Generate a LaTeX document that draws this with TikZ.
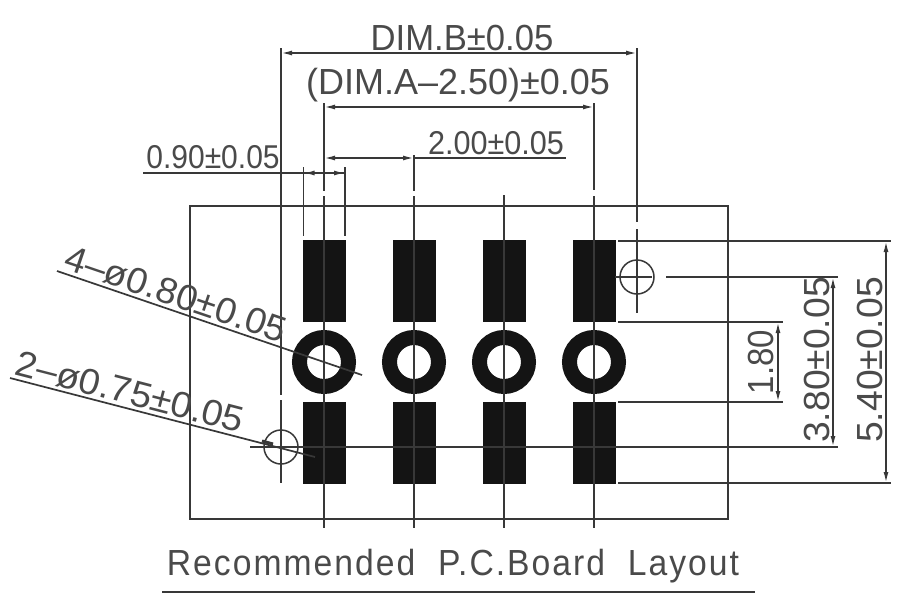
\documentclass[tikz,border=0pt]{standalone}
\usepackage{fontspec}
\usepackage{graphicx}
\setmainfont{Liberation Sans}
\newfontfamily\spaced[LetterSpace=6]{Liberation Sans}
\usetikzlibrary{arrows.meta,calc}
\definecolor{ink}{HTML}{383838}
\definecolor{txt}{HTML}{4A4A4A}
\definecolor{padfill}{HTML}{141414}
\tikzset{
  endtip/.style={-{Latex[length=11pt,width=5pt]}},
  dimline/.style={{Latex[length=11pt,width=5pt]}-{Latex[length=11pt,width=5pt]}},
  dimtext/.style={inner sep=0pt,text=txt,font=\fontsize{33}{33}\selectfont},
  padbox/.style={fill=padfill,draw=none,minimum width=43pt,minimum height=82pt,inner sep=0pt},
  ring/.style={circle,draw=padfill,line width=15pt,fill=white,minimum size=49pt,inner sep=0pt},
  hole/.style={circle,draw=ink,line width=1.5pt,minimum size=34pt,inner sep=0pt}
}
\begin{document}
\begin{tikzpicture}[x=1pt,y=-1pt,line width=1.7pt,color=ink]
\useasboundingbox (0,0) rectangle (900,595);
\fill[white] (0,0) rectangle (900,595);
\node[draw=ink,line width=1.9pt,minimum width=538pt,minimum height=313pt,inner sep=0pt] (board) at (459,362.5) {};
% pads and rings
\foreach \n/\x in {1/324,2/414,3/504,4/594}{
  \node[padbox] (top\n) at (\x,281) {};
  \node[padbox] (bot\n) at (\x,443) {};
  \node[ring] (ring\n) at (\x,362) {};
}
\node[hole] (holeA) at (637,277) {};
\node[hole] (holeB) at (281,447) {};
% named free ends
\coordinate (c1a) at (324,103);
\coordinate (c1b) at (324,191);
\coordinate (c1c) at (324,196);
\coordinate (c1d) at (324,528);
\coordinate (c2a) at (414,155);
\coordinate (c2b) at (414,191);
\coordinate (c2c) at (414,196);
\coordinate (c2d) at (414,528);
\coordinate (c3a) at (504,195);
\coordinate (c3d) at (504,528);
\coordinate (c4a) at (594,103);
\coordinate (c4b) at (594,190);
\coordinate (c4c) at (594,196);
\coordinate (c4d) at (594,528);
\draw (c1a)--(c1b) (c1c)--(c1d);
\draw (c2a)--(c2b) (c2c)--(c2d);
\draw (c3a)--(c3d);
\draw (c4a)--(c4b) (c4c)--(c4d);
% extension lines: left hole
\coordinate (lA) at (281,48);
\coordinate (lB) at (281,395);
\coordinate (lC) at (281,400);
\coordinate (lD) at (281,483);
\draw (lA)--(lB) (lC)--(lD);
% extension lines: right hole
\coordinate (rA) at (637,48);
\coordinate (rB) at (637,222);
\coordinate (rC) at (637,229);
\coordinate (rD) at (637,313);
\draw (rA)--(rB) (rC)--(rD);
% pad width ext
\coordinate (pL1) at (303.5,167);
\coordinate (pL2) at (303.5,236);
\coordinate (pR1) at (345,167);
\coordinate (pR2) at (345,236);
\draw (pL1)--(pL2) (pR1)--(pR2);
% horizontal centres
\coordinate (h1a) at (615,277);
\coordinate (h1b) at (652,277);
\coordinate (h1c) at (666,277);
\coordinate (h1d) at (838,277);
\draw (h1a)--(h1b) (h1c)--(h1d);
\coordinate (h2a) at (250,447);
\coordinate (h2d) at (838,447);
\draw (h2a)--(h2d);
% right extension lines
\coordinate (e1a) at (618,241);\coordinate (e1b) at (891,241);
\coordinate (e2a) at (618,483);\coordinate (e2b) at (891,483);
\coordinate (e3a) at (618,322);\coordinate (e3b) at (783,322);
\coordinate (e4a) at (618,402);\coordinate (e4b) at (783,402);
\draw (e1a)--(e1b) (e2a)--(e2b) (e3a)--(e3b) (e4a)--(e4b);
% dimensions
\coordinate (dB1) at (281,53);\coordinate (dB2) at (637,53);
\draw[dimline] (dB1)--(dB2);
\coordinate (dA1) at (324,107);\coordinate (dA2) at (594,107);
\draw[dimline] (dA1)--(dA2);
\coordinate (d21) at (324,158);\coordinate (d22) at (414,158);\coordinate (d23) at (566,158);
\draw[dimline] (d21)--(d22);
\draw (d22)--(d23);
\coordinate (w0) at (143,173);\coordinate (w1) at (303.5,173);\coordinate (w2) at (345,173);\coordinate (w3) at (324,173);
\draw (w0)--(w2);
\draw[endtip] (w3)--(w1);
\draw[endtip] (w3)--(w2);
\coordinate (v1a) at (778,322);\coordinate (v1b) at (778,402);
\draw[dimline] (v1a)--(v1b);
\coordinate (v2a) at (833,277);\coordinate (v2b) at (833,447);
\draw[dimline] (v2a)--(v2b);
\coordinate (v3a) at (886,241);\coordinate (v3b) at (886,483);
\draw[dimline] (v3a)--(v3b);
% leaders
\coordinate (la1) at (57,271);\coordinate (la2) at (362,375);
\draw (la1)--(la2);
\coordinate (lb1) at (10,378);\coordinate (lb2) at (315,457);
\draw (lb1)--(lb2);
\coordinate (lb3) at (262,441);\coordinate (lb4) at (273,444);
\draw[line width=3pt] (lb3)--(lb4);
% title underline
\coordinate (u1) at (162,592);\coordinate (u2) at (755,592);
\draw (u1)--(u2);
% texts
\node[dimtext] (tB) at (462,38) {\scalebox{1.05}[1.1]{DIM.B±0.05}};
\node[dimtext] (tA) at (458,85) {\scalebox{1.09}[1.1]{(DIM.A–2.50)±0.05}};
\node[dimtext,font=\fontsize{30}{30}\selectfont] (t2) at (496,143) {\scalebox{1.02}[1.1]{2.00±0.05}};
\node[dimtext,font=\fontsize{30}{30}\selectfont] (t9) at (213,157) {\scalebox{1}[1.1]{0.90±0.05}};
\node[dimtext,rotate=-18.8] (t4) at (176,294) {\scalebox{1.14}[1.1]{4–ø0.80±0.05}};
\node[dimtext,rotate=-14.5] (t5) at (130,392) {\scalebox{1.15}[1.1]{2–ø0.75±0.05}};
\node[dimtext,rotate=90] (t18) at (761,362) {\scalebox{1}[1.1]{1.80}};
\node[dimtext,rotate=90] (t38) at (817,360) {\scalebox{1.13}[1.1]{3.80±0.05}};
\node[dimtext,rotate=90] (t54) at (870,360) {\scalebox{1.13}[1.1]{5.40±0.05}};
\node[dimtext] (title) at (453,566) {\scalebox{1.02}[1.1]{\spaced Recommended\ \ P.C.Board\ \ Layout}};
\end{tikzpicture}
\end{document}
